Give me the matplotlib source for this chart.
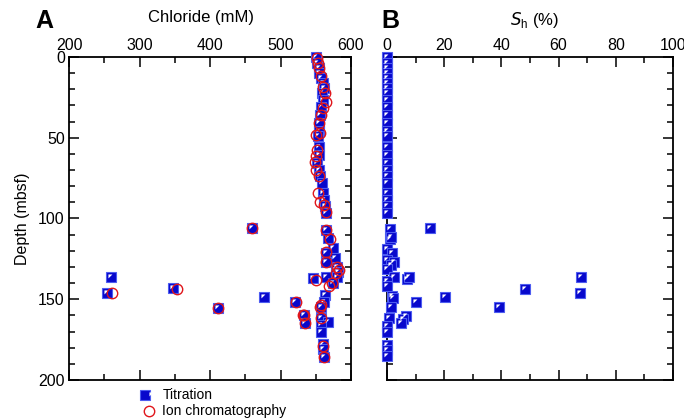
import matplotlib.pyplot as plt
from matplotlib.path import Path
from matplotlib.ticker import MultipleLocator
from matplotlib.legend_handler import HandlerTuple

plt.rcParams['font.family'] = ['Liberation Sans', 'DejaVu Sans']

# Titration chloride (mM) and depth (mbsf)
tit_cl = [550, 552, 554, 555, 557, 560, 561, 559, 560, 557, 556, 554, 555, 553,
          554, 554, 552, 554, 556, 559, 560, 562, 563, 565,
          564, 459, 568, 574, 565, 577, 564, 580, 578, 582, 565, 580, 546, 575,
          563, 561, 557, 533, 535, 558, 568, 558, 558, 560, 560, 562,
          260, 254, 348, 411, 477, 521]
tit_depth = [0, 3.9, 7, 10, 13, 16, 19, 22.5, 26.6, 30.7, 36, 41, 46, 49,
             55.5, 60.6, 65.8, 70, 74, 78, 84.4, 88.5, 92.2, 96.4,
             107, 106, 112, 118, 121.5, 124.6, 126.7, 129.8, 132, 133, 136, 136, 136.6, 140,
             147.3, 151.5, 155, 159.7, 164.9, 161.7, 163.8, 166, 170, 178, 181, 185.5,
             136.4, 146.3, 143, 155.6, 148.4, 151.8]

# Ion chromatography chloride (mM) and depth (mbsf)
ic_cl = [552, 553, 555, 557, 560.5, 563, 565, 560, 557, 555, 556, 550, 552, 551,
         549, 550, 555, 553.5, 556, 562, 564.5,
         564, 459, 570, 565, 564, 580, 583, 579, 550, 572.5, 569, 557, 556,
         533, 535, 558, 560, 562,
         260.5, 353, 411, 521.5, 532]
ic_depth = [0.8, 3.5, 7, 12, 18.4, 22.5, 27.6, 31.8, 36, 41, 47, 48, 57.6, 61,
            64.8, 70, 74, 84.4, 89.5, 91.6, 95.8,
            107, 106, 113, 121, 126.7, 130, 132, 134, 138, 140, 142, 153.5, 155,
            159.7, 164.9, 161.7, 179, 185.5,
            146.3, 143.8, 155.6, 151.8, 160]

# Gas hydrate saturation Sh (%) and depth (mbsf)
sh_val = [0] * 24 + [
    1.1, 15, 1.0, 1.4, 0, 1.6, 0, 2.4, 1.5, 0, 2.4, 7.1, 7.6, 0, 0,
    67.7, 48.3, 67.5, 1.6, 2.0, 20.3, 1.3, 10.1, 39.3, 0.8, 6.6, 5.7, 4.9,
    0, 0, 0, 0, 0]
sh_depth = [0, 3.9, 7, 10, 13, 16, 19, 22.5, 26.6, 30.7, 36, 41, 46, 49,
            55.5, 60.6, 65.8, 70, 74, 78, 84.4, 88.5, 92.2, 96.4] + [
    106.7, 106, 112.8, 111.5, 119, 121.5, 125.5, 126.7, 128.6, 131.5, 136, 137.6, 136.5, 138.9, 142,
    136.4, 143.4, 146.3, 148, 149.5, 148.4, 154.9, 151.6, 155, 161.8, 160.3, 162.4, 164.9,
    166.3, 170.4, 178.2, 181.4, 185]

sq_face = '#0808cc'
sq_edge = '#4d5cf0'
tri_path = Path([(-1, 1), (0.3, 1), (-1, -0.3), (-1, 1)],
                [Path.MOVETO, Path.LINETO, Path.LINETO, Path.CLOSEPOLY])


def titration(ax, x, y):
    sq, = ax.plot(x, y, ls='none', marker='s', ms=6.5, mfc=sq_face, mec=sq_edge,
                  mew=0.8, clip_on=False, zorder=3)
    tr, = ax.plot(x, y, ls='none', marker=tri_path, ms=4.4, mfc='white', mec='none',
                  clip_on=False, zorder=3)
    return sq, tr


def style_axis(ax):
    ax.set_ylim(200, 0)
    ax.yaxis.set_major_locator(MultipleLocator(50))
    ax.yaxis.set_minor_locator(MultipleLocator(10))
    ax.tick_params(which='both', direction='in', top=True, bottom=True,
                   left=True, right=True, labeltop=True, labelbottom=False,
                   labelsize=11.5, width=1.1, pad=3)
    ax.tick_params(which='major', length=7)
    ax.tick_params(which='minor', length=4)
    for s in ax.spines.values():
        s.set_linewidth(1.3)


fig = plt.figure(figsize=(6.84, 4.19), dpi=100)
axA = fig.add_axes([0.1009, 0.0931, 0.4123, 0.7709])
axB = fig.add_axes([0.5658, 0.0931, 0.4181, 0.7709])

# Panel A
sq, tr = titration(axA, tit_cl, tit_depth)
circ, = axA.plot(ic_cl, ic_depth, ls='none', marker='o', ms=7.5, mfc='none',
                 mec='#e0161b', mew=1.0, clip_on=False, zorder=4)
axA.set_xlim(200, 600)
axA.xaxis.set_major_locator(MultipleLocator(100))
axA.xaxis.set_minor_locator(MultipleLocator(50))
style_axis(axA)
axA.set_ylabel('Depth (mbsf)', fontsize=11.5, labelpad=6)

# Panel B
titration(axB, sh_val, sh_depth)
axB.set_xlim(0, 100)
axB.xaxis.set_major_locator(MultipleLocator(20))
axB.xaxis.set_minor_locator(MultipleLocator(10))
style_axis(axB)
axB.tick_params(labelleft=False)

fig.text(0.052, 0.978, 'A', fontsize=18, fontweight='bold', va='top')
fig.text(0.294, 0.975, 'Chloride (mM)', fontsize=12, ha='center', va='top')
fig.text(0.558, 0.978, 'B', fontsize=18, fontweight='bold', va='top')
fig.text(0.782, 0.975, r'$S$$_\mathregular{h}$ (%)', fontsize=12, ha='center', va='top')

fig.legend([(sq, tr), circ], ['Titration', 'Ion chromatography'],
           handler_map={tuple: HandlerTuple(ndivide=None, pad=0)},
           loc='upper left', bbox_to_anchor=(0.207, 0.073), frameon=False,
           fontsize=10, handlelength=1.0, handletextpad=0.5, borderpad=0,
           labelspacing=0.15, borderaxespad=0)

fig.savefig('out.png', dpi=100)
